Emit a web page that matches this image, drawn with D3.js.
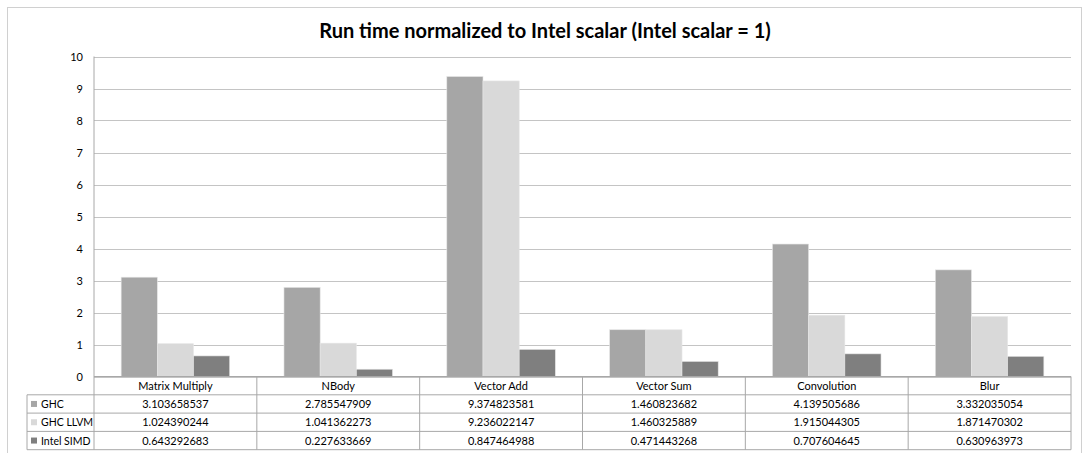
<!DOCTYPE html>
<html>
<head>
<meta charset="utf-8">
<script src="https://cdn.jsdelivr.net/npm/d3@7"></script>
<style>
  body { margin: 0; background: #fff; }
  svg { display: block; font-family: Lato, "Open Sans", sans-serif; }
</style>
</head>
<body>
<svg id="chart" width="1083" height="453"></svg>
<script>
const categories = ["Matrix Multiply", "NBody", "Vector Add", "Vector Sum", "Convolution", "Blur"];
const seriesNames = ["GHC", "GHC LLVM", "Intel SIMD"];
const ghc = [3.103658537, 2.785547909, 9.374823581, 1.460823682, 4.139505686, 3.332035054];
const ghcLlvm = [1.024390244, 1.041362273, 9.236022147, 1.460325889, 1.915044305, 1.871470302];
const intelSimd = [0.643292683, 0.227633669, 0.847464988, 0.471443268, 0.707604645, 0.630963973];
const yTicks = [0, 1, 2, 3, 4, 5, 6, 7, 8, 9, 10];

const series = [ghc, ghcLlvm, intelSimd];
const colors = ["#a6a6a6", "#d9d9d9", "#7f7f7f"];

const W = 1083, H = 453;
const plot = { left: 94, right: 1071, top: 56.5, bottom: 376.5 };
const rowH = 18.3;
const tableLeft = 27;

const svg = d3.select("#chart");

// outer frame
svg.append("rect")
    .attr("x", 7.5).attr("y", 7.5)
    .attr("width", 1074).attr("height", 460)
    .attr("fill", "none")
    .attr("stroke", "#d0d0d0");

// title
svg.append("text")
    .attr("x", 545)
    .attr("y", 38)
    .attr("text-anchor", "middle")
    .attr("font-size", 20)
    .attr("font-weight", "bold")
    .attr("fill", "#000")
    .text("Run time normalized to Intel scalar (Intel scalar = 1)");

const x0 = d3.scaleBand()
    .domain(categories)
    .range([plot.left, plot.right])
    .padding(0);

const step = x0.bandwidth();
const barW = step / 4.5;
const x1 = d3.scaleBand()
    .domain(seriesNames)
    .range([(step - 3 * barW) / 2, (step + 3 * barW) / 2])
    .padding(0);

const y = d3.scaleLinear()
    .domain([0, 10])
    .range([plot.bottom, plot.top]);

// grid
svg.append("g")
    .selectAll("line")
    .data(yTicks)
    .join("line")
    .attr("x1", plot.left).attr("x2", plot.right)
    .attr("y1", d => Math.round(y(d)) + 0.5)
    .attr("y2", d => Math.round(y(d)) + 0.5)
    .attr("stroke", "#c4c4c4")
    .attr("stroke-width", 1.2);

// y tick labels
svg.append("g")
    .selectAll("text")
    .data(yTicks)
    .join("text")
    .attr("x", 83)
    .attr("y", d => y(d) + 4)
    .attr("text-anchor", "end")
    .attr("font-size", 11)
    .attr("fill", "#000")
    .text(d => d);

// bars
const groups = svg.append("g")
    .selectAll("g")
    .data(seriesNames)
    .join("g")
    .attr("fill", (d, i) => colors[i]);

groups.selectAll("rect")
    .data((s, i) => series[i].map((v, j) => ({ cat: categories[j], s, v })))
    .join("rect")
    .attr("x", d => x0(d.cat) + x1(d.s))
    .attr("y", d => y(d.v))
    .attr("width", x1.bandwidth())
    .attr("height", d => y(0) - y(d.v))
    .attr("stroke", "#e6e6e6")
    .attr("stroke-width", 0.6);

// data table
const tbl = svg.append("g")
    .attr("stroke", "#a8a8a8")
    .attr("stroke-width", 1);

// horizontal lines
const rowLines = [0, 1, 2, 3, 4].map(i => plot.bottom + i * rowH);
tbl.selectAll("line.h")
    .data(rowLines)
    .join("line")
    .attr("class", "h")
    .attr("x1", (d, i) => i === 0 ? plot.left : tableLeft)
    .attr("x2", plot.right)
    .attr("y1", d => d).attr("y2", d => d);

// vertical lines
const colEdges = categories.map(c => x0(c)).concat([plot.right]);
tbl.selectAll("line.v")
    .data(colEdges)
    .join("line")
    .attr("class", "v")
    .attr("x1", d => d).attr("x2", d => d)
    .attr("y1", (d, i) => i === 0 ? plot.top : plot.bottom)
    .attr("y2", plot.bottom + 4 * rowH);

tbl.append("line")
    .attr("x1", tableLeft).attr("x2", tableLeft)
    .attr("y1", plot.bottom + rowH)
    .attr("y2", plot.bottom + 4 * rowH);

// header labels
svg.append("g")
    .selectAll("text")
    .data(categories)
    .join("text")
    .attr("x", d => x0(d) + step / 2)
    .attr("y", plot.bottom + rowH / 2 + 4)
    .attr("text-anchor", "middle")
    .attr("font-size", 11)
    .text(d => d);

// rows
seriesNames.forEach((name, i) => {
    const rowY = plot.bottom + (i + 1) * rowH;
    svg.append("rect")
        .attr("x", 31).attr("y", rowY + rowH / 2 - 3)
        .attr("width", 6).attr("height", 6)
        .attr("fill", colors[i]);
    svg.append("text")
        .attr("x", 41)
        .attr("y", rowY + rowH / 2 + 4)
        .attr("font-size", 10.5)
        .text(name);
    svg.append("g")
        .selectAll("text")
        .data(series[i])
        .join("text")
        .attr("x", (d, j) => x0(categories[j]) + step / 2)
        .attr("y", rowY + rowH / 2 + 4)
        .attr("text-anchor", "middle")
        .attr("font-size", 11)
        .text(d => d.toFixed(9));
});
</script>
</body>
</html>
